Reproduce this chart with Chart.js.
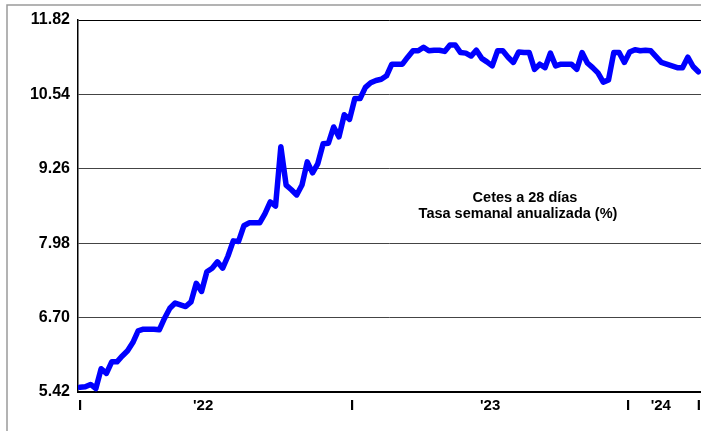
<!DOCTYPE html>
<html>
<head>
<meta charset="utf-8">
<script src="https://cdn.jsdelivr.net/npm/chart.js@4/dist/chart.umd.min.js"></script>
<style>
  html, body { margin: 0; padding: 0; background: #fff; overflow: hidden; }
  #chartContainer { width: 701px; height: 431px; }
</style>
</head>
<body>
<div id="chartContainer"><canvas id="myChart" width="701" height="431"></canvas></div>
<script>
// Cetes a 28 dias, weekly auction rate (%), Jan 2022 - Mar 2024
const cetes28 = [
  5.50, 5.51, 5.55, 5.48, 5.82, 5.74, 5.94, 5.94, 6.04, 6.13,
  6.27, 6.47, 6.50, 6.50, 6.50, 6.49, 6.69, 6.86, 6.95, 6.92,
  6.89, 6.97, 7.29, 7.15, 7.49, 7.55, 7.66, 7.55, 7.76, 8.02,
  8.01, 8.28, 8.33, 8.33, 8.33, 8.49, 8.69, 8.62, 9.64, 8.98,
  8.90, 8.81, 8.98, 9.38, 9.19, 9.35, 9.69, 9.70, 9.98, 9.81,
  10.19, 10.11, 10.47, 10.47, 10.66, 10.74, 10.78, 10.80, 10.86, 11.06,
  11.06, 11.06, 11.18, 11.29, 11.29, 11.35, 11.29, 11.30, 11.30, 11.28,
  11.39, 11.39, 11.26, 11.25, 11.20, 11.30, 11.16, 11.10, 11.03, 11.29,
  11.29, 11.18, 11.09, 11.27, 11.26, 11.26, 10.97, 11.06, 11.00, 11.25,
  11.03, 11.06, 11.06, 11.06, 10.97, 11.26, 11.08, 11.00, 10.91, 10.75,
  10.79, 11.26, 11.26, 11.09, 11.27, 11.31, 11.29, 11.30, 11.29, 11.19,
  11.09, 11.06, 11.03, 11.00, 11.00, 11.18, 11.02, 10.93
];

// y axis ticks
const yTicks = [5.42, 6.70, 7.98, 9.26, 10.54, 11.82];

// x axis marks, in weeks since first auction
const xTickWeeks = [0, 23.3, 51.5, 77.6, 103.7, 109.9, 117.1];
const xTickLabels = ['I', "'22", 'I', "'23", 'I', "'24", 'I'];

const titleLines = ['Cetes a 28 días', 'Tasa semanal anualizada (%)'];

const FONT = '"Liberation Sans", Arial, sans-serif';

const framePlugin = {
  id: 'frame',
  beforeDraw(chart) {
    const ctx = chart.ctx;
    ctx.save();
    ctx.strokeStyle = '#9a9a9a';
    ctx.lineWidth = 1.5;
    ctx.beginPath();
    ctx.moveTo(7, chart.height);
    ctx.lineTo(7, 5);
    ctx.lineTo(chart.width, 5);
    ctx.stroke();
    ctx.restore();
  },
  afterDraw(chart) {
    const ctx = chart.ctx;
    ctx.save();
    ctx.fillStyle = '#000';
    ctx.font = 'bold 14.5px ' + FONT;
    ctx.textAlign = 'center';
    ctx.textBaseline = 'middle';
    ctx.fillText(titleLines[0], 525, 198);
    ctx.fillText(titleLines[1], 518, 214);
    ctx.restore();
  }
};

const ctx = document.getElementById('myChart').getContext('2d');
new Chart(ctx, {
  type: 'line',
  data: {
    datasets: [{
      data: cetes28.map((v, i) => ({ x: i, y: v })),
      borderColor: '#0000ff',
      backgroundColor: 'transparent',
      borderWidth: 5.5,
      borderJoinStyle: 'round',
      borderCapStyle: 'round',
      pointRadius: 0,
      tension: 0
    }]
  },
  options: {
    responsive: false,
    animation: false,
    devicePixelRatio: 1,
    layout: { padding: { top: 20, right: 0, bottom: 0, left: 0 } },
    plugins: { legend: { display: false }, tooltip: { enabled: false } },
    scales: {
      x: {
        type: 'linear',
        min: -0.38,
        max: 117.5,
        afterFit: (scale) => {
          scale.height = 39;
          scale.paddingLeft = 0;
          scale.paddingRight = 0;
        },
        afterBuildTicks: (scale) => { scale.ticks = xTickWeeks.map(v => ({ value: v })); },
        grid: { display: false, drawTicks: false },
        border: { display: true, color: '#000', width: 2 },
        ticks: {
          autoSkip: false,
          maxRotation: 0,
          padding: 5,
          color: '#000',
          font: { family: FONT, size: 15, weight: 'bold' },
          callback: (value, index) => xTickLabels[index]
        }
      },
      y: {
        min: 5.42,
        max: 11.82,
        afterFit: (scale) => { scale.width = 78; },
        afterBuildTicks: (scale) => { scale.ticks = yTicks.map(v => ({ value: v })); },
        grid: {
          drawTicks: false,
          lineWidth: 1,
          color: (c) => (c.index === yTicks.length - 1 || c.index === 0) ? '#000' : '#444'
        },
        border: { display: true, color: '#000', width: 1.5 },
        ticks: {
          padding: 8,
          color: '#000',
          font: { family: FONT, size: 16, weight: 'bold' },
          callback: (value) => Number(value).toFixed(2)
        }
      }
    }
  },
  plugins: [framePlugin]
});
</script>
</body>
</html>
